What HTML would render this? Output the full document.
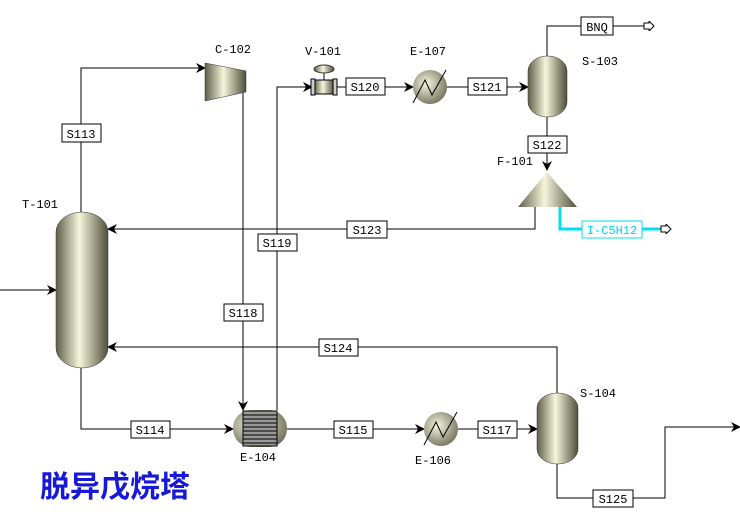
<!DOCTYPE html>
<html><head><meta charset="utf-8"><style>body{margin:0;background:#fff}svg{display:block}text{font-family:"Liberation Mono",monospace;font-size:12px}</style></head><body>
<svg width="740" height="519" viewBox="0 0 740 519">
<defs>
<linearGradient id="g" x1="0" x2="1" y1="0" y2="0"><stop offset="0" stop-color="#5e5e48"/><stop offset="0.45" stop-color="#f6f6dc"/><stop offset="1" stop-color="#4e4e3a"/></linearGradient>
<radialGradient id="r" cx="0.4" cy="0.4" r="0.7"><stop offset="0" stop-color="#f4f4e0"/><stop offset="1" stop-color="#6a6a54"/></radialGradient>
<marker id="a" markerWidth="10" markerHeight="10" refX="9" refY="5" orient="auto" markerUnits="userSpaceOnUse"><path d="M0,0 L10,5 L0,10 L3,5z" fill="#000"/></marker>
<marker id="o" markerWidth="12" markerHeight="10" refX="2" refY="5" orient="auto" markerUnits="userSpaceOnUse"><path d="M1,2 L6,2 L6,0 L11,5 L6,10 L6,8 L1,8z" fill="#fff" stroke="#000"/></marker>
</defs>
<g fill="none" stroke="#000" stroke-width="1">
<path d="M0,290 H56" marker-end="url(#a)"/>
<path d="M81,212 V68 H205" marker-end="url(#a)"/>
<path d="M243,92 V410" marker-end="url(#a)"/>
<path d="M277,410 V87 H312" marker-end="url(#a)"/>
<path d="M336,87 H413" marker-end="url(#a)"/>
<path d="M447,87 H528" marker-end="url(#a)"/>
<path d="M547,56 V26 H645" marker-end="url(#o)"/>
<path d="M547,117 V170" marker-end="url(#a)"/>
<path d="M535,207 V229 H108" marker-end="url(#a)"/>
<path d="M81,368 V429 H233" marker-end="url(#a)"/>
<path d="M287,429 H424" marker-end="url(#a)"/>
<path d="M458,429 H537" marker-end="url(#a)"/>
<path d="M557,393 V347 H108" marker-end="url(#a)"/>
<path d="M557,464 V498 H665 V427 H740" marker-end="url(#a)"/>
</g>
<path d="M560,207 V229 H660" fill="none" stroke="#00e0f0" stroke-width="3"/>
<path d="M660,229 H662" marker-end="url(#o)" stroke="#000"/>
<rect x="56" y="212" width="52" height="156" rx="26" ry="20" fill="url(#g)" stroke="#333" stroke-width="0.5"/>
<path d="M205,63 L246,71 L246,92 L205,101z" fill="url(#g)" stroke="#333" stroke-width="0.5"/>
<rect x="233" y="410" width="54" height="37" rx="18" fill="url(#r)"/>
<rect x="243" y="411" width="34" height="35" fill="#999" stroke="#000"/>
<g stroke="#000"><path d="M243,415H277M243,419H277M243,423H277M243,427H277M243,431H277M243,435H277M243,439H277M243,443H277"/></g>
<rect x="314" y="80" width="20" height="14" fill="url(#g)" stroke="#000"/>
<rect x="311" y="79" width="4" height="16" fill="#ccc" stroke="#000"/><rect x="333" y="79" width="4" height="16" fill="#ccc" stroke="#000"/>
<path d="M324,80V70" stroke="#000"/><ellipse cx="324" cy="69" rx="10" ry="4" fill="url(#g)" stroke="#333"/>
<circle cx="430" cy="87" r="17" fill="url(#r)"/><path d="M413,103 L425,80 L432,95 L446,70" fill="none" stroke="#000"/>
<circle cx="441" cy="429" r="17" fill="url(#r)"/><path d="M424,445 L436,422 L443,437 L457,412" fill="none" stroke="#000"/>
<rect x="528" y="56" width="39" height="61" rx="19" ry="15" fill="url(#g)" stroke="#333" stroke-width="0.5"/>
<rect x="537" y="393" width="41" height="71" rx="20" ry="15" fill="url(#g)" stroke="#333" stroke-width="0.5"/>
<path d="M547,172 L577,207 L518,207z" fill="url(#g)"/>
<g fill="#fff" stroke="#000">
<rect x="62" y="124" width="39" height="18"/><rect x="224" y="304" width="39" height="17"/><rect x="258" y="234" width="39" height="17"/>
<rect x="346" y="78" width="39" height="17"/><rect x="468" y="78" width="39" height="17"/><rect x="581" y="17" width="32" height="18"/>
<rect x="528" y="136" width="39" height="17"/><rect x="347" y="221" width="40" height="17"/><rect x="131" y="421" width="39" height="17"/>
<rect x="334" y="421" width="39" height="17"/><rect x="478" y="421" width="39" height="17"/><rect x="319" y="339" width="39" height="17"/><rect x="593" y="490" width="40" height="17"/>
</g>
<rect x="582" y="221" width="60" height="17" fill="#fff" stroke="#00e0f0"/>
<g text-anchor="middle">
<text x="81" y="138">S113</text><text x="243" y="317">S118</text><text x="277" y="247">S119</text><text x="365" y="91">S120</text><text x="487" y="91">S121</text>
<text x="597" y="31">BNQ</text><text x="547" y="149">S122</text><text x="367" y="234">S123</text><text x="150" y="434">S114</text><text x="353" y="434">S115</text>
<text x="497" y="434">S117</text><text x="338" y="352">S124</text><text x="613" y="503">S125</text><text x="612" y="234" fill="#00d8f0">I-C5H12</text>
</g>
<text x="22" y="208">T-101</text><text x="215" y="53">C-102</text><text x="305" y="55">V-101</text><text x="410" y="55">E-107</text>
<text x="582" y="65">S-103</text><text x="497" y="165">F-101</text><text x="240" y="461">E-104</text><text x="415" y="464">E-106</text><text x="580" y="397">S-104</text>
<text x="40" y="497" style="font-family:'Liberation Sans','Noto Sans CJK SC',sans-serif;font-size:30px;font-weight:bold" fill="#1818d8">脱异戊烷塔</text>
</svg>
</body></html>
